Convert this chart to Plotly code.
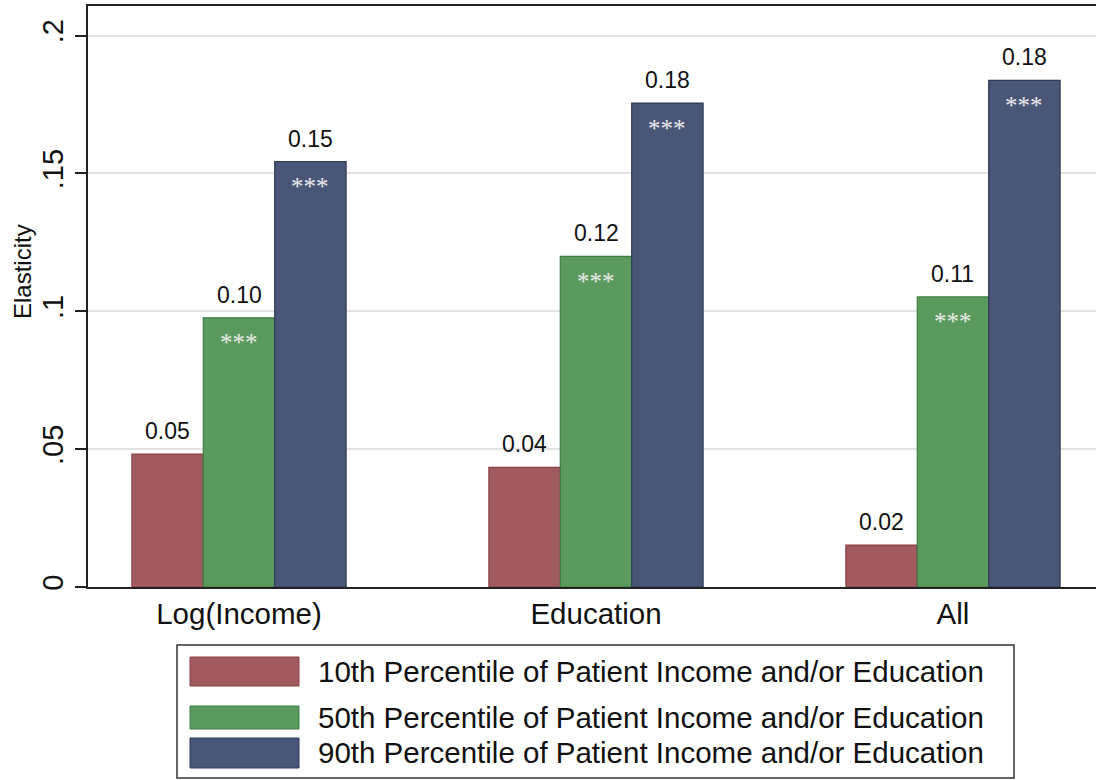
import plotly.graph_objects as go

# ---------------- data ----------------
categories = ["Log(Income)", "Education", "All"]
series_names = [
    "10th Percentile of Patient Income and/or Education",
    "50th Percentile of Patient Income and/or Education",
    "90th Percentile of Patient Income and/or Education",
]
p10 = [0.0482, 0.0434, 0.0152]
p50 = [0.0976, 0.1199, 0.1052]
p90 = [0.1543, 0.1755, 0.1837]
stars_p10 = ["", "", ""]
stars_p50 = ["***", "***", "***"]
stars_p90 = ["***", "***", "***"]
y_tick_values = [0, 0.05, 0.1, 0.15, 0.2]
y_tick_labels = ["0", ".05", ".1", ".15", ".2"]
y_title = "Elasticity"

series_values = [p10, p50, p90]
series_stars = [stars_p10, stars_p50, stars_p90]

# ---------------- style ----------------
fill_colors = ["#a15b60", "#5a9a5d", "#4a5677"]
line_colors = ["#8a4047", "#3f7c45", "#2f3a58"]
W, H = 1096, 780
L, R, T, B = 88, 0, 6, 193
plot_w = W - L - R
plot_h = H - T - B
FONT = "Liberation Sans, Arial, sans-serif"

def px_x(p):
    return (p - L) / plot_w

def px_y(p):
    return (H - B - p) / plot_h

bar_w = 0.2
x_pos = list(range(len(categories)))

fig = go.Figure()
for k, (name, vals) in enumerate(zip(series_names, series_values)):
    off = -1.5 * bar_w + k * bar_w
    fig.add_trace(go.Bar(
        x=x_pos, y=vals, name=name, width=bar_w, offset=off,
        marker=dict(color=fill_colors[k], line=dict(color=line_colors[k], width=1.2)),
        showlegend=False, hoverinfo="skip",
    ))
    for i, v in enumerate(vals):
        xc = x_pos[i] + off + bar_w / 2
        fig.add_annotation(x=xc, y=v, text=f"{v:.2f}", showarrow=False,
                           yanchor="middle", yshift=23,
                           font=dict(family=FONT, size=23, color="#111111"))
        s = series_stars[k][i]
        if s:
            fig.add_annotation(x=xc, y=v, text=s, showarrow=False,
                               yanchor="middle", yshift=-25,
                               font=dict(family="Liberation Serif, Times New Roman, serif",
                                         size=25, color="#ebebeb"))

# ---------------- y-axis title ----------------
fig.add_annotation(xref="paper", yref="paper", x=px_x(22), y=px_y(272), text=y_title,
                   textangle=-90, showarrow=False, xanchor="center", yanchor="middle",
                   font=dict(family=FONT, size=24, color="#111111"))

# ---------------- custom legend ----------------
fig.add_shape(type="rect", xref="paper", yref="paper",
              x0=px_x(177), x1=px_x(1014), y0=px_y(778), y1=px_y(645),
              line=dict(color="#333333", width=1.5), fillcolor="white", layer="above")
rows = [(657, 686), (706, 729), (738, 768)]
for k, name in enumerate(series_names):
    y0, y1 = rows[k]
    fig.add_shape(type="rect", xref="paper", yref="paper",
                  x0=px_x(190), x1=px_x(299), y0=px_y(y1), y1=px_y(y0),
                  line=dict(color=line_colors[k], width=1), fillcolor=fill_colors[k],
                  layer="above")
    fig.add_annotation(xref="paper", yref="paper", x=px_x(316), y=px_y((y0 + y1) / 2),
                       text=name, showarrow=False, xanchor="left", yanchor="middle",
                       font=dict(family=FONT, size=29.5, color="#111111"))

fig.update_layout(
    width=W, height=H,
    margin=dict(l=L, r=R, t=T, b=B),
    paper_bgcolor="white", plot_bgcolor="white",
    font=dict(family=FONT, color="#111111"),
    barmode="overlay",
    showlegend=False,
    hovermode=False,
)
fig.update_xaxes(
    range=[-0.423, 2.4006], tickvals=x_pos, ticktext=categories,
    ticks="", showline=True, mirror=True, linecolor="#222222", linewidth=2,
    showgrid=False, zeroline=False,
    tickfont=dict(family=FONT, size=29.5, color="#111111"),
)
fig.update_yaxes(
    range=[0, 0.2107], tickvals=y_tick_values, ticktext=y_tick_labels,
    tickangle=-90, ticks="outside", ticklen=11, tickwidth=1.5, tickcolor="#222222",
    showline=True, linecolor="#222222", linewidth=2,
    showgrid=True, gridcolor="#e2e2e2", gridwidth=1.5, zeroline=False,
    tickfont=dict(family=FONT, size=29, color="#111111"),
)

fig.write_html("out.html", config={"displayModeBar": False},
               post_script="document.body.style.margin='0';")
